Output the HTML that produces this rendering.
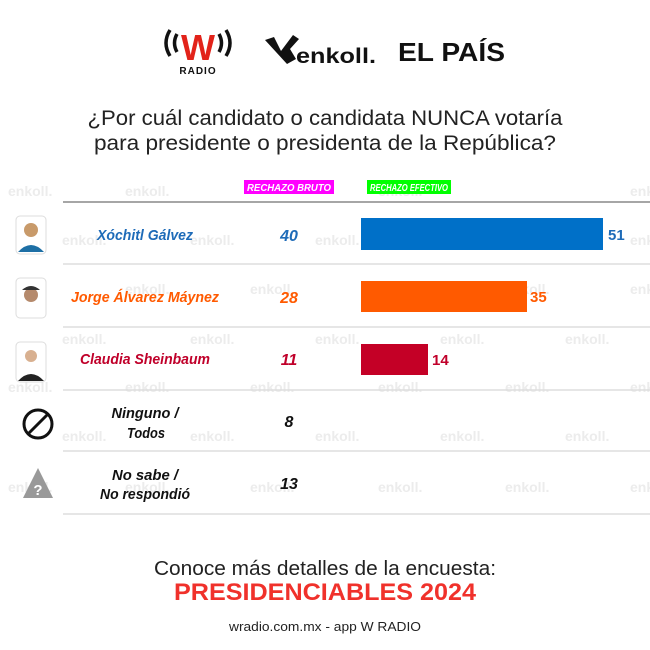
<!DOCTYPE html>
<html><head><meta charset="utf-8"><style>
html,body{margin:0;padding:0;background:#fff}
svg{display:block}
text{font-family:"Liberation Sans",sans-serif}
.wm{fill:#ececec;font-weight:bold;font-size:14px}
.nm{font-style:italic;font-weight:bold;font-size:15px}
</style></head><body>
<svg width="650" height="650" viewBox="0 0 650 650" xmlns="http://www.w3.org/2000/svg">
<g class="wm">
<text x="8" y="196">enkoll.</text><text x="125" y="196">enkoll.</text><text x="378" y="196">enkoll.</text><text x="630" y="196">enkoll.</text>
<text x="62" y="245">enkoll.</text><text x="190" y="245">enkoll.</text><text x="315" y="245">enkoll.</text><text x="630" y="245">enkoll.</text>
<text x="125" y="294">enkoll.</text><text x="250" y="294">enkoll.</text><text x="505" y="294">enkoll.</text><text x="630" y="294">enkoll.</text>
<text x="62" y="344">enkoll.</text><text x="190" y="344">enkoll.</text><text x="315" y="344">enkoll.</text><text x="440" y="344">enkoll.</text><text x="565" y="344">enkoll.</text>
<text x="8" y="392">enkoll.</text><text x="125" y="392">enkoll.</text><text x="250" y="392">enkoll.</text><text x="378" y="392">enkoll.</text><text x="505" y="392">enkoll.</text><text x="630" y="392">enkoll.</text>
<text x="62" y="441">enkoll.</text><text x="190" y="441">enkoll.</text><text x="315" y="441">enkoll.</text><text x="440" y="441">enkoll.</text><text x="565" y="441">enkoll.</text>
<text x="8" y="492">enkoll.</text><text x="125" y="492">enkoll.</text><text x="250" y="492">enkoll.</text><text x="378" y="492">enkoll.</text><text x="505" y="492">enkoll.</text><text x="630" y="492">enkoll.</text>
</g>
<g>
<text x="198" y="60" text-anchor="middle" font-size="36" font-weight="bold" fill="#e2231a">W</text>
<path d="M170 30 q-8 13 0 26 M177 34 q-5 9 0 18 M226 30 q8 13 0 26 M219 34 q5 9 0 18" stroke="#111" stroke-width="3.5" fill="none"/>
<text x="198" y="74" text-anchor="middle" font-size="10" font-weight="bold" fill="#111" letter-spacing="1">RADIO</text>
<path d="M265 40 l9 -3 l7 14 l12 -16 l6 4 l-9 10 l6 10 l-9 5 z" fill="#111"/>
<text x="296" y="63" font-size="21" font-weight="bold" fill="#111" textLength="80" lengthAdjust="spacingAndGlyphs">enkoll.</text>
<text x="398" y="61" font-size="26" font-weight="bold" fill="#111" font-family="Liberation Serif,serif" textLength="107" lengthAdjust="spacingAndGlyphs">EL PAÍS</text>
</g>
<text x="325" y="125" text-anchor="middle" font-size="21" fill="#222" textLength="475" lengthAdjust="spacingAndGlyphs">¿Por cuál candidato o candidata NUNCA votaría</text>
<text x="325" y="150" text-anchor="middle" font-size="21" fill="#222" textLength="462" lengthAdjust="spacingAndGlyphs">para presidente o presidenta de la República?</text>
<rect x="244" y="180" width="90" height="14" fill="#ff00ff"/>
<text x="289" y="191" text-anchor="middle" font-size="10" font-style="italic" font-weight="bold" fill="#fff" textLength="84" lengthAdjust="spacingAndGlyphs">RECHAZO BRUTO</text>
<rect x="367" y="180" width="84" height="14" fill="#00ff00"/>
<text x="409" y="191" text-anchor="middle" font-size="10" font-style="italic" font-weight="bold" fill="#fff" textLength="78" lengthAdjust="spacingAndGlyphs">RECHAZO EFECTIVO</text>
<line x1="63" y1="202" x2="650" y2="202" stroke="#888" stroke-width="1.5"/>
<g stroke="#ddd" stroke-width="1.5">
<line x1="63" y1="264" x2="650" y2="264"/><line x1="63" y1="327" x2="650" y2="327"/>
<line x1="63" y1="390" x2="650" y2="390"/><line x1="63" y1="451" x2="650" y2="451"/>
<line x1="63" y1="514" x2="650" y2="514"/></g>
<g>
<rect x="16" y="216" width="30" height="38" rx="4" fill="#fff" stroke="#ddd"/>
<circle cx="31" cy="230" r="7" fill="#c89a6a"/><path d="M18 252 q13 -14 26 0 z" fill="#1d6fa5"/>
<rect x="16" y="278" width="30" height="40" rx="4" fill="#fff" stroke="#ddd"/>
<circle cx="31" cy="295" r="7" fill="#b58a6c"/><path d="M22 290 q9 -8 18 0" fill="#333"/>
<rect x="16" y="342" width="30" height="40" rx="4" fill="#fff" stroke="#ddd"/>
<circle cx="31" cy="356" r="6" fill="#d8b090"/><path d="M18 381 q13 -14 26 0 z" fill="#222"/>
<circle cx="38" cy="424" r="14" fill="none" stroke="#111" stroke-width="3"/>
<line x1="28" y1="434" x2="48" y2="414" stroke="#111" stroke-width="3"/>
<path d="M38 468 l15 30 h-30 z" fill="#999"/>
<text x="38" y="495" text-anchor="middle" font-size="15" font-weight="bold" fill="#fff">?</text>
</g>
<text class="nm" x="145" y="240" text-anchor="middle" fill="#1e6bb8" textLength="96" lengthAdjust="spacingAndGlyphs">Xóchitl Gálvez</text>
<text class="nm" x="145" y="302" text-anchor="middle" fill="#ff5a00" textLength="148" lengthAdjust="spacingAndGlyphs">Jorge Álvarez Máynez</text>
<text class="nm" x="145" y="364" text-anchor="middle" fill="#c0002a" textLength="130" lengthAdjust="spacingAndGlyphs">Claudia Sheinbaum</text>
<text class="nm" x="145" y="418" text-anchor="middle" fill="#111" font-size="14" textLength="67" lengthAdjust="spacingAndGlyphs">Ninguno /</text>
<text class="nm" x="146" y="438" text-anchor="middle" fill="#111" font-size="14" textLength="38" lengthAdjust="spacingAndGlyphs">Todos</text>
<text class="nm" x="145" y="480" text-anchor="middle" fill="#111" font-size="14" textLength="66" lengthAdjust="spacingAndGlyphs">No sabe /</text>
<text class="nm" x="145" y="499" text-anchor="middle" fill="#111" font-size="14" textLength="90" lengthAdjust="spacingAndGlyphs">No respondió</text>
<g font-size="16" font-style="italic" font-weight="bold" text-anchor="middle">
<text x="289" y="241" fill="#1e6bb8">40</text>
<text x="289" y="303" fill="#ff5a00">28</text>
<text x="289" y="365" fill="#c0002a">11</text>
<text x="289" y="427" fill="#111">8</text>
<text x="289" y="489" fill="#111">13</text>
</g>
<rect x="361" y="218" width="242" height="32" fill="#0070c8"/>
<rect x="361" y="281" width="166" height="31" fill="#ff5a00"/>
<rect x="361" y="344" width="67" height="31" fill="#c40026"/>
<g font-size="15" font-weight="bold">
<text x="608" y="240" fill="#1e6bb8">51</text>
<text x="530" y="302" fill="#ff5a00">35</text>
<text x="432" y="365" fill="#c0002a">14</text>
</g>
<text x="325" y="575" text-anchor="middle" font-size="20" fill="#222" textLength="342" lengthAdjust="spacingAndGlyphs">Conoce más detalles de la encuesta:</text>
<text x="325" y="600" text-anchor="middle" font-size="24" font-weight="bold" fill="#f0312b" textLength="302" lengthAdjust="spacingAndGlyphs">PRESIDENCIABLES 2024</text>
<text x="325" y="631" text-anchor="middle" font-size="13" fill="#222" textLength="192" lengthAdjust="spacingAndGlyphs">wradio.com.mx - app W RADIO</text>
</svg>
</body></html>
